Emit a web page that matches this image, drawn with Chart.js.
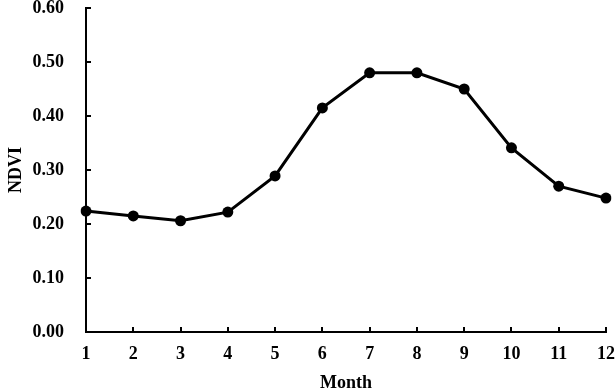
<!DOCTYPE html>
<html><head><meta charset="utf-8">
<script src="https://cdn.jsdelivr.net/npm/chart.js@4/dist/chart.umd.min.js"></script>
<style>html,body{margin:0;padding:0;background:#fff}#wrap{width:616px;height:392px}</style>
</head><body><div id="wrap"><canvas id="c"></canvas></div>
<script>
const months = ['1','2','3','4','5','6','7','8','9','10','11','12'];
const ndvi = [0.224, 0.215, 0.206, 0.222, 0.289, 0.415, 0.480, 0.480, 0.450, 0.341, 0.270, 0.248];
const yTitle = 'NDVI';
const xTitle = 'Month';
const FONT = "'Liberation Serif', 'Times New Roman', serif";

const inwardTicks = {
  id: 'inwardTicks',
  afterDraw(chart) {
    const ctx = chart.ctx, a = chart.chartArea;
    ctx.save();
    ctx.strokeStyle = '#000'; ctx.lineWidth = 2;
    const xs = chart.scales.x, ys = chart.scales.y;
    xs.ticks.forEach((t, i) => {
      const px = Math.round(xs.getPixelForTick(i));
      ctx.beginPath(); ctx.moveTo(px, a.bottom); ctx.lineTo(px, a.bottom - 5); ctx.stroke();
    });
    ys.ticks.forEach((t, i) => {
      const py = Math.round(ys.getPixelForTick(i));
      ctx.beginPath(); ctx.moveTo(a.left, py); ctx.lineTo(a.left + 5, py); ctx.stroke();
    });
    ctx.restore();
  }
};

new Chart(document.getElementById('c'), {
  type: 'line',
  data: { labels: months, datasets: [{
    data: ndvi, borderColor: '#000', backgroundColor: '#000', borderWidth: 3,
    pointRadius: 5.5, pointBackgroundColor: '#000', pointBorderWidth: 0, tension: 0, fill: false
  }]},
  options: {
    responsive: true, maintainAspectRatio: false, animation: false,
    layout: { padding: { top: 0, left: 0, bottom: 0, right: 10 } },
    plugins: { legend: { display: false }, tooltip: { enabled: false } },
    scales: {
      x: {
        type: 'category', offset: false,
        grid: { display: false, drawTicks: false },
        border: { color: '#000', width: 2 },
        ticks: { color: '#000', padding: 12, maxRotation: 0, autoSkip: false, font: { family: FONT, size: 18, weight: 'bold' } },
        title: { display: true, text: xTitle, color: '#000', padding: { top: 0, bottom: -2 }, font: { family: FONT, size: 18, weight: 'bold' } },
        afterFit: s => { s.height = 60; s.paddingRight = 0; s.paddingLeft = 0; }
      },
      y: {
        min: 0, max: 0.6,
        grid: { display: false, drawTicks: false },
        border: { color: '#000', width: 2 },
        ticks: { stepSize: 0.1, color: '#000', padding: 22, font: { family: FONT, size: 18, weight: 'bold' },
          callback: v => Number(v).toFixed(2) },
        title: { display: true, text: yTitle, color: '#000', padding: { top: 6, bottom: 0 }, font: { family: FONT, size: 18, weight: 'bold' } },
        afterFit: s => { s.width = 86; s.paddingTop = 8; s.paddingBottom = 0; }
      }
    }
  },
  plugins: [inwardTicks]
});
</script></body></html>
